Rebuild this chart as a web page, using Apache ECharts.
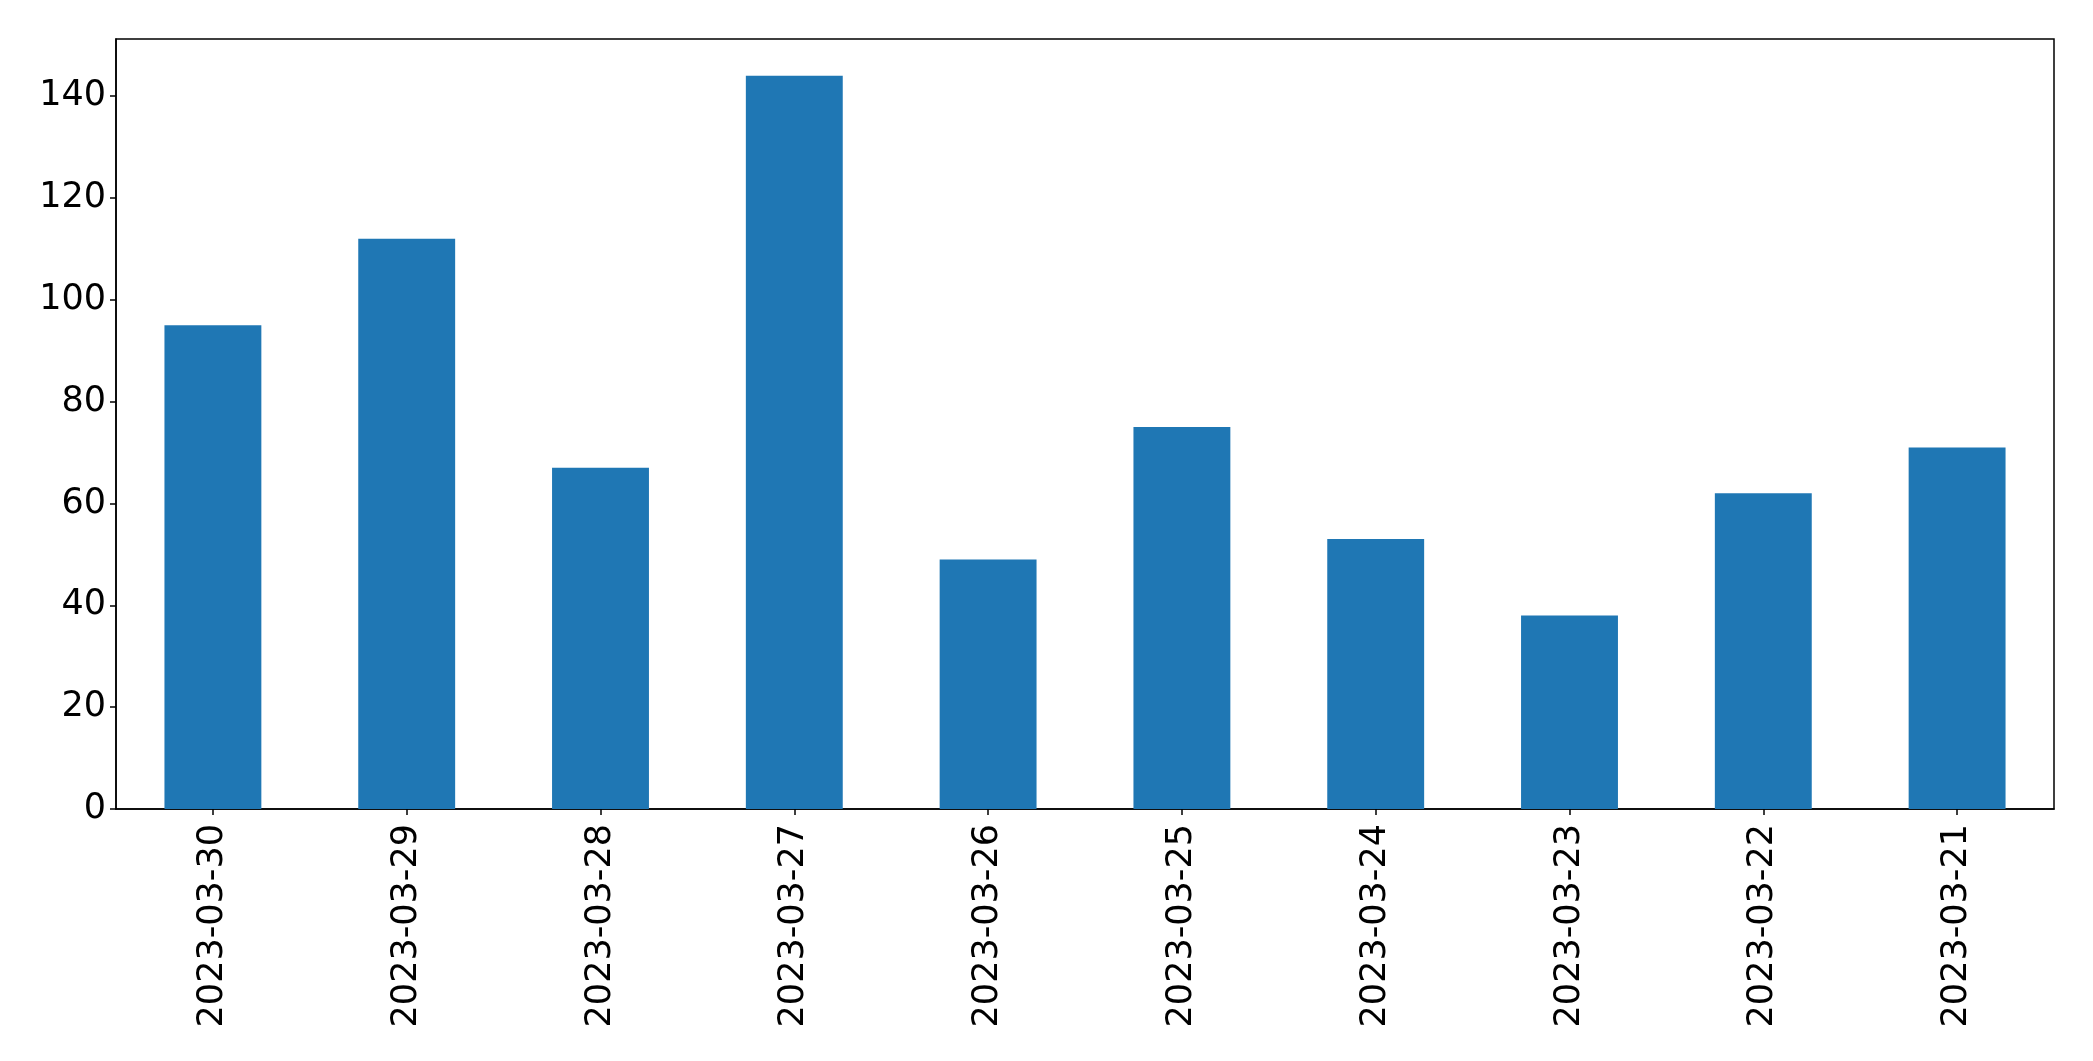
<!DOCTYPE html>
<html>
<head>
<meta charset="utf-8">
<script src="https://cdn.jsdelivr.net/npm/echarts@6/dist/echarts.min.js"></script>
<style>
html,body{margin:0;padding:0;background:#fff;}
#chart{width:2093px;height:1061px;}
</style>
</head>
<body>
<div id="chart"></div>
<script>
const categories = ['2023-03-30','2023-03-29','2023-03-28','2023-03-27','2023-03-26','2023-03-25','2023-03-24','2023-03-23','2023-03-22','2023-03-21'];
const values = [95, 112, 67, 144, 49, 75, 53, 38, 62, 71];
const yTicks = [0, 20, 40, 60, 80, 100, 120, 140];

const chart = echarts.init(document.getElementById('chart'), null, {renderer: 'canvas'});
const font = 'DejaVu Sans';
chart.setOption({
  animation: false,
  backgroundColor: '#fff',
  grid: {
    left: 116, right: 39, top: 39, bottom: 252,
    show: true, borderColor: '#000', borderWidth: 1.5, backgroundColor: 'transparent'
  },
  xAxis: {
    type: 'category',
    data: categories,
    axisLine: {show: true, lineStyle: {color: '#000', width: 1.5}},
    axisTick: {show: true, alignWithLabel: true, length: 6, lineStyle: {color: '#000', width: 1.5}},
    axisLabel: {rotate: 90, color: '#000', fontFamily: font, fontSize: 35, margin: 15, interval: 0},
    splitLine: {show: false}
  },
  yAxis: {
    type: 'value',
    min: 0,
    max: Math.max(...values) * 1.05,
    interval: 20,
    axisLine: {show: true, lineStyle: {color: '#000', width: 1.5}},
    axisTick: {show: true, length: 6, lineStyle: {color: '#000', width: 1.5}, customValues: yTicks},
    axisLabel: {color: '#000', fontFamily: font, fontSize: 35, margin: 10, customValues: yTicks},
    splitLine: {show: false}
  },
  series: [{
    type: 'bar',
    data: values,
    barWidth: '50%',
    itemStyle: {color: '#1f77b4'}
  }]
});
</script>
</body>
</html>
